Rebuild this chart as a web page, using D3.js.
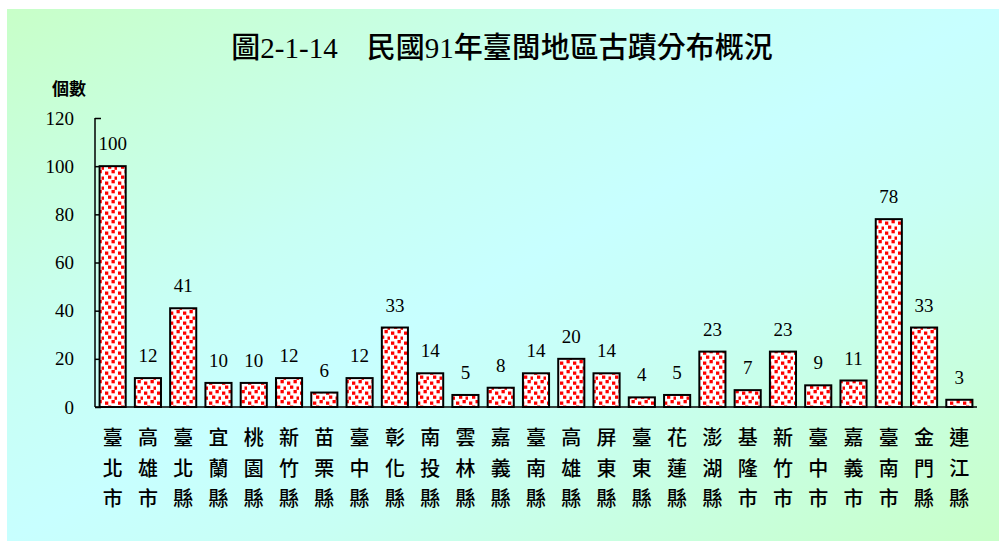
<!DOCTYPE html>
<html><head><meta charset="utf-8">
<script src="https://cdn.jsdelivr.net/npm/d3@7"></script>
<style>body{margin:0;background:#fff}svg{display:block}</style>
</head><body>
<svg id="c" width="999" height="542"></svg>
<script>
const categories = ["臺北市","高雄市","臺北縣","宜蘭縣","桃園縣","新竹縣","苗栗縣","臺中縣","彰化縣","南投縣","雲林縣","嘉義縣","臺南縣","高雄縣","屏東縣","臺東縣","花蓮縣","澎湖縣","基隆市","新竹市","臺中市","嘉義市","臺南市","金門縣","連江縣"];
const values = [100,12,41,10,10,12,6,12,33,14,5,8,14,20,14,4,5,23,7,23,9,11,78,33,3];
const yTicks = [0,20,40,60,80,100,120];
const title = "圖2-1-14　民國91年臺閩地區古蹟分布概況";
const yLabel = "個數";

const svg = d3.select("#c");
const defs = svg.append("defs");
const g = defs.append("linearGradient").attr("id","bg").attr("x1","0").attr("y1","0").attr("x2","1").attr("y2","1");
g.append("stop").attr("offset","0").attr("stop-color","#c8ffc8");
g.append("stop").attr("offset","0.35").attr("stop-color","#c8fff4");
g.append("stop").attr("offset","0.5").attr("stop-color","#c8ffff");
g.append("stop").attr("offset","0.65").attr("stop-color","#c8fff4");
g.append("stop").attr("offset","1").attr("stop-color","#c8ffc8");

const pat = defs.append("pattern").attr("id","dots").attr("patternUnits","userSpaceOnUse")
  .attr("width",13).attr("height",10);
pat.append("rect").attr("width",13).attr("height",10).attr("fill","#fff");
[[1,1.5],[7.5,0],[4,5.5],[10.5,6.5]].forEach(([x,y])=>{
  pat.append("rect").attr("x",x).attr("y",y).attr("width",3.3).attr("height",3.3).attr("fill","#ff0000");
});

svg.append("rect").attr("x",7).attr("y",9).attr("width",992).attr("height",532).attr("fill","url(#bg)");

svg.append("text").attr("x",502).attr("y",58).attr("text-anchor","middle")
  .attr("font-family","'Liberation Serif','Noto Sans CJK TC'").attr("font-size",29).attr("font-weight",500)
  .attr("fill","#000").text(title);

svg.append("text").attr("x",52).attr("y",95)
  .attr("font-family","'Noto Sans CJK TC'").attr("font-size",17).attr("font-weight",700)
  .attr("fill","#000").text(yLabel);

const x = d3.scaleBand().domain(categories).range([95,977]).paddingInner(0.26).paddingOuter(0.13);
const y = d3.scaleLinear().domain([0,120]).range([407,118]);

// y axis
const ya = svg.append("g").attr("transform","translate(95,0)")
  .call(d3.axisRight(y).tickValues(yTicks).tickSize(6).tickFormat(""));
ya.select(".domain").attr("stroke","#000").attr("stroke-width",1.5).attr("d","M0,"+y(120)+"V"+y(0));
ya.selectAll(".tick line").attr("stroke","#000").attr("stroke-width",1.5);
svg.append("g").selectAll("text").data(yTicks).join("text")
  .attr("x",74).attr("y",d=>y(d)+6.5).attr("text-anchor","end")
  .attr("font-family","'Liberation Serif'").attr("font-size",19).attr("fill","#000").text(d=>d);

// bars
svg.append("g").selectAll("rect").data(values).join("rect")
  .attr("x",(d,i)=>x(categories[i])).attr("y",d=>y(d))
  .attr("width",x.bandwidth()).attr("height",d=>y(0)-y(d))
  .attr("fill","url(#dots)").attr("stroke","#000").attr("stroke-width",2);

// x axis
const xa = svg.append("g").attr("transform","translate(0,407)")
  .call(d3.axisBottom(x).tickSize(0).tickFormat(""));
xa.select(".domain").attr("stroke","#000").attr("stroke-width",1.5).attr("d","M95,0H977");

// value labels
svg.append("g").selectAll("text").data(values).join("text")
  .attr("x",(d,i)=>x(categories[i])+x.bandwidth()/2).attr("y",d=>y(d)-16)
  .attr("text-anchor","middle").attr("font-family","'Liberation Serif'").attr("font-size",19)
  .attr("fill","#000").text(d=>d);

// category labels (vertical)
const cl = svg.append("g").selectAll("g").data(categories).join("g")
  .attr("transform",d=>`translate(${x(d)+x.bandwidth()/2},0)`);
cl.selectAll("text").data(d=>Array.from(d)).join("text")
  .attr("x",0).attr("y",(c,j)=>445+j*30.5).attr("text-anchor","middle")
  .attr("font-family","'Noto Sans CJK TC'").attr("font-size",20).attr("font-weight",500)
  .attr("fill","#000").text(c=>c);
</script>
</body></html>
